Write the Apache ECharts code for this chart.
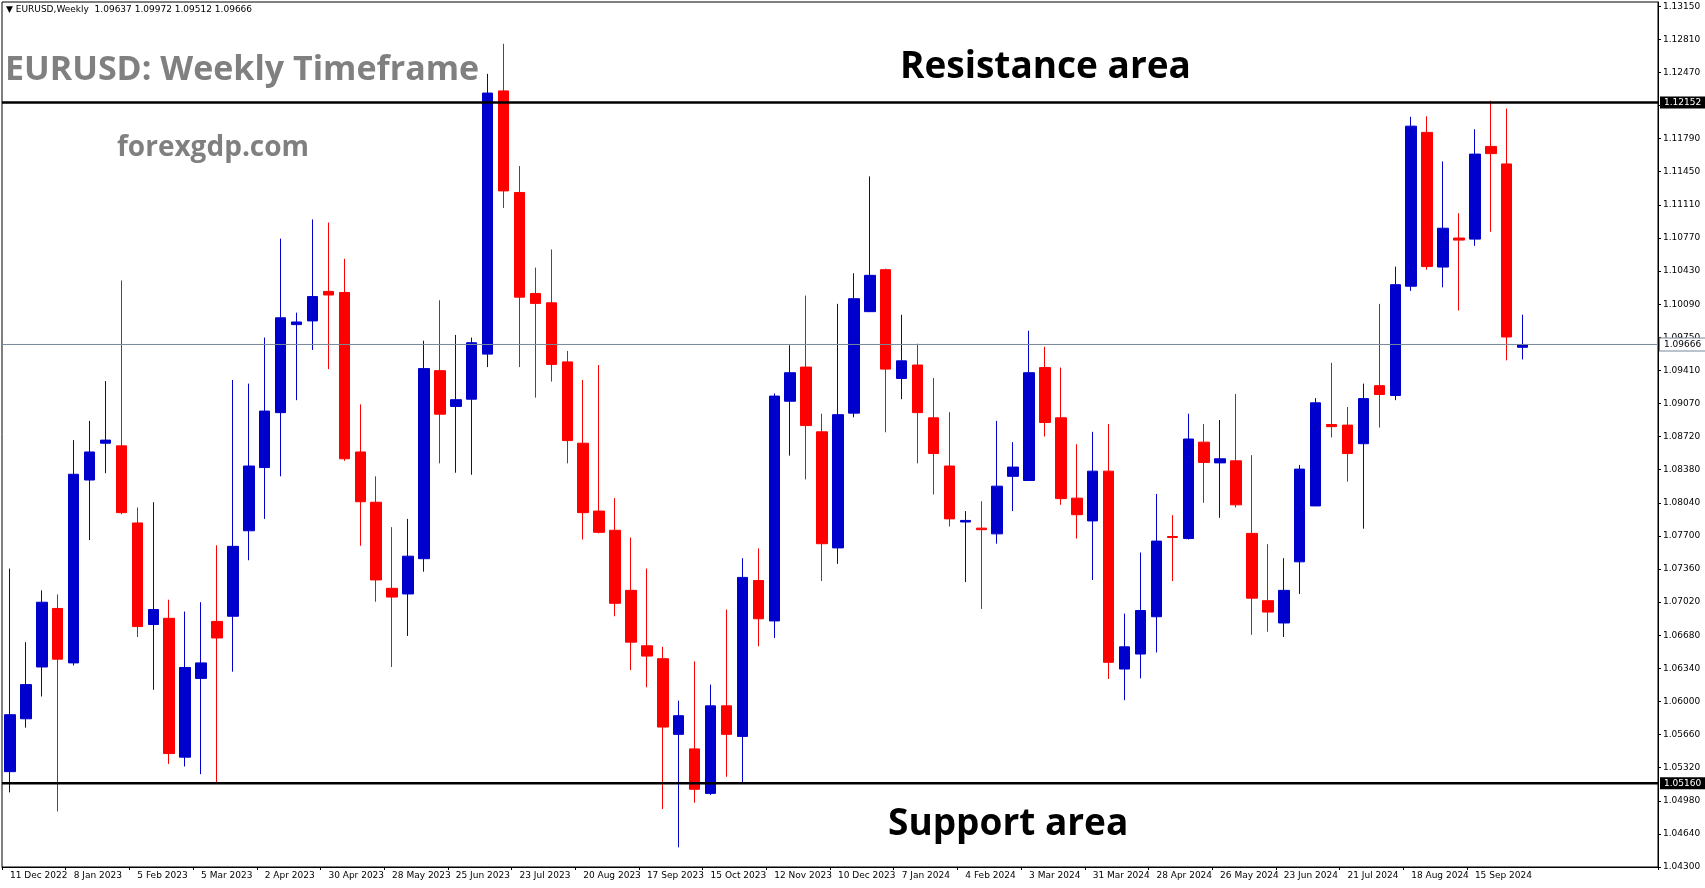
<!DOCTYPE html>
<html><head><meta charset="utf-8">
<script src="https://cdn.jsdelivr.net/npm/echarts@6/dist/echarts.min.js"></script>
<style>html,body{margin:0;padding:0;background:#fff}#c{width:1705px;height:888px}</style>
</head><body><div id="c"></div>
<script>
const opens=[1.05279,1.05822,1.06354,1.06955,1.06396,1.08274,1.08652,1.08625,1.07833,1.06790,
1.06854,1.05428,1.06237,1.06822,1.06875,1.07753,1.08402,1.08966,1.09870,1.09908,
1.10211,1.10200,1.08562,1.08046,1.07162,1.07104,1.07466,1.09397,1.09030,1.09104,
1.09567,1.12270,1.11227,1.10190,1.10094,1.09487,1.08652,1.07955,1.07758,1.07141,
1.06572,1.06439,1.05662,1.05513,1.05056,1.05955,1.05641,1.07242,1.06827,1.09083,
1.09434,1.08769,1.07577,1.08961,1.10003,1.10434,1.09317,1.09455,1.08913,1.08418,
1.07843,1.07780,1.07721,1.08312,1.08269,1.09429,1.08913,1.08088,1.07854,1.08365,
1.06333,1.06487,1.06870,1.07694,1.07673,1.08663,1.08450,1.08471,1.07726,1.07035,
1.06806,1.07434,1.08008,1.08844,1.08838,1.08647,1.09243,1.09142,1.10264,1.11844,
1.10461,1.10759,1.10748,1.11700,1.11520,1.09637];
const closes=[1.05864,1.06173,1.07019,1.06434,1.08333,1.08562,1.08684,1.07939,1.06769,1.06944,
1.05465,1.06349,1.06396,1.06652,1.07593,1.08418,1.08982,1.09940,1.09897,1.10158,
1.10174,1.08492,1.08051,1.07248,1.07072,1.07492,1.09418,1.08950,1.09099,1.09684,
1.12248,1.11243,1.10152,1.10088,1.09461,1.08679,1.07939,1.07737,1.07008,1.06609,
1.06466,1.05737,1.05854,1.05098,1.05955,1.05662,1.07274,1.06849,1.09136,1.09376,
1.08833,1.07620,1.08945,1.10136,1.10376,1.09413,1.09498,1.08966,1.08546,1.07875,
1.07859,1.07764,1.08211,1.08407,1.09376,1.08865,1.08083,1.07918,1.08365,1.06402,
1.06561,1.06934,1.07647,1.07684,1.08695,1.08455,1.08492,1.08019,1.07061,1.06918,
1.07141,1.08386,1.09067,1.08822,1.08546,1.09110,1.09152,1.10280,1.11908,1.10466,
1.10860,1.10738,1.11621,1.11626,1.09743,1.09666];
const highs=[1.07365,1.06609,1.07141,1.07099,1.08684,1.08881,1.09290,1.10323,1.07992,1.08046,
1.07045,1.06923,1.07019,1.07604,1.09301,1.09264,1.09737,1.10753,1.09993,1.10950,
1.10918,1.10546,1.09051,1.08312,1.07790,1.07875,1.09705,1.10120,1.09764,1.09737,
1.12445,1.12754,1.11498,1.10456,1.10642,1.09599,1.09301,1.09455,1.08088,1.07684,
1.07365,1.06561,1.06008,1.06412,1.06173,1.06944,1.07471,1.07572,1.09163,1.09658,
1.10168,1.08955,1.10083,1.10397,1.11392,1.10445,1.09971,1.09674,1.09322,1.08971,
1.07955,1.08056,1.08881,1.08663,1.09807,1.09642,1.09429,1.08641,1.08769,1.08849,
1.06902,1.07530,1.08131,1.07913,1.08955,1.08849,1.08891,1.09157,1.08530,1.07615,
1.07471,1.08429,1.09115,1.09477,1.09024,1.09264,1.10083,1.10466,1.12004,1.12009,
1.11546,1.11014,1.11876,1.12169,1.12089,1.09972];
const lows=[1.05066,1.05731,1.06051,1.04870,1.06370,1.07657,1.08344,1.07923,1.06662,1.06120,
1.05359,1.05332,1.05253,1.05173,1.06306,1.07450,1.07875,1.08312,1.09094,1.09610,
1.09413,1.08471,1.07599,1.07024,1.06354,1.06673,1.07333,1.08445,1.08349,1.08328,
1.09434,1.11067,1.09434,1.09120,1.09285,1.08445,1.07663,1.07726,1.06875,1.06322,
1.06146,1.04896,1.04502,1.04960,1.05040,1.05226,1.05173,1.06567,1.06652,1.08524,
1.08280,1.07237,1.07413,1.08918,1.10003,1.08764,1.09104,1.08445,1.08125,1.07796,
1.07226,1.06950,1.07620,1.07955,1.08269,1.08721,1.08019,1.07673,1.07248,1.06231,
1.06013,1.06237,1.06503,1.07237,1.07663,1.08040,1.07886,1.07992,1.06684,1.06716,
1.06662,1.07104,1.08008,1.08711,1.08258,1.07774,1.08812,1.09094,1.10216,1.10434,
1.10253,1.10014,1.10679,1.10823,1.09503,1.09512];
const dateLabels=['11 Dec 2022','8 Jan 2023','5 Feb 2023','5 Mar 2023','2 Apr 2023','30 Apr 2023','28 May 2023','25 Jun 2023','23 Jul 2023','20 Aug 2023','17 Sep 2023','15 Oct 2023','12 Nov 2023','10 Dec 2023','7 Jan 2024','4 Feb 2024','3 Mar 2024','31 Mar 2024','28 Apr 2024','26 May 2024','23 Jun 2024','21 Jul 2024','18 Aug 2024','15 Sep 2024'];
const priceTicks=['1.04300','1.04640','1.04980','1.05320','1.05660','1.06000','1.06340','1.06680','1.07020','1.07360','1.07700','1.08040','1.08380','1.08720','1.09070','1.09410','1.09750','1.10090','1.10430','1.10770','1.11110','1.11450','1.11790','','1.12470','1.12810','1.13150'];
const resistance=1.12152, support=1.05160, lastPrice=1.09666;
const header='\u25BC EURUSD,Weekly  1.09637 1.09972 1.09512 1.09666';

const TOTAL=104;
const cats=[];
for(let i=0;i<TOTAL;i++){cats.push(i%4===0&&dateLabels[i/4]?dateLabels[i/4]:'w'+i);}
const ohlc=opens.map((o,i)=>[o,closes[i],lows[i],highs[i]]);

const W=1705,H=888,GL=2,GR=47,GT=2,GB=21;
const chart=echarts.init(document.getElementById('c'));
chart.setOption({
  animation:false,
  grid:{left:GL,right:GR,top:GT,bottom:GB,show:true,borderColor:'#000',borderWidth:1},
  xAxis:{type:'category',data:cats,boundaryGap:true,
    axisLine:{lineStyle:{color:'#000'}},
    axisTick:{show:true,interval:(i)=>i%4===0&&i/4<dateLabels.length,lineStyle:{color:'#000'},length:3},
    axisLabel:{interval:(i)=>i%4===0&&i/4<dateLabels.length,formatter:(v)=>v.startsWith('w')?'':v,
      color:'#000',fontSize:9,fontFamily:'Tahoma, DejaVu Sans, sans-serif',align:'left',margin:4},
    splitLine:{show:false}},
  yAxis:{type:'value',position:'right',min:1.043,max:1.13183,interval:0.0034,
    axisLine:{show:true,lineStyle:{color:'#000'}},
    axisTick:{show:true,length:3,lineStyle:{color:'#000'}},
    axisLabel:{color:'#000',fontSize:9,fontFamily:'Tahoma, DejaVu Sans, sans-serif',margin:5,
      formatter:(v)=>{const k=Math.round((v-1.043)/0.0034);return priceTicks[k]||'';}},
    splitLine:{show:false}},
  series:[
    {type:'candlestick',data:ohlc,barWidth:11,
    itemStyle:{color:'#0000CD',color0:'#FF0000',borderColor:'#0000CD',borderColor0:'#FF0000',borderWidth:1}}
  ]
});

function hline(val,color,width,bg,fg,border){
  const y=chart.convertToPixel({yAxisIndex:0},val);
  return [
    {type:'line',z:50,shape:{x1:GL,y1:y,x2:W-GR,y2:y},style:{stroke:color,lineWidth:width}},
    {type:'text',z:51,x:W-GR+2,y:y,style:{text:val.toFixed(5),fontSize:9,fill:fg,backgroundColor:bg,
      borderColor:border,borderWidth:border?1:0,padding:[2,4,1,4],verticalAlign:'middle',
      fontFamily:'Tahoma, DejaVu Sans, sans-serif'}}
  ];
}
chart.setOption({graphic:[
    {type:'text',left:6,top:5,style:{text:header,fontSize:9,fill:'#000',fontFamily:'Tahoma, DejaVu Sans, sans-serif'}},
    {type:'text',left:5,top:53,style:{text:'EURUSD: Weekly Timeframe',fontSize:34,fontWeight:'bold',fill:'#808080',fontFamily:'Open Sans, sans-serif'}},
    {type:'text',left:117,top:134,style:{text:'forexgdp.com',fontSize:28,fontWeight:'bold',fill:'#808080',fontFamily:'Open Sans, sans-serif'}},
    {type:'text',left:900,top:49,style:{text:'Resistance area',fontSize:37,fontWeight:'bold',fill:'#000',fontFamily:'Open Sans, sans-serif'}},
    {type:'text',left:888,top:806,style:{text:'Support area',fontSize:37,fontWeight:'bold',fill:'#000',fontFamily:'Open Sans, sans-serif'}}
  ].concat(hline(lastPrice,'#778899',1,'#fff','#000','#778899'))
   .concat(hline(resistance,'#000',2.5,'#000','#fff',null))
   .concat(hline(support,'#000',2.5,'#000','#fff',null))
});
</script></body></html>
